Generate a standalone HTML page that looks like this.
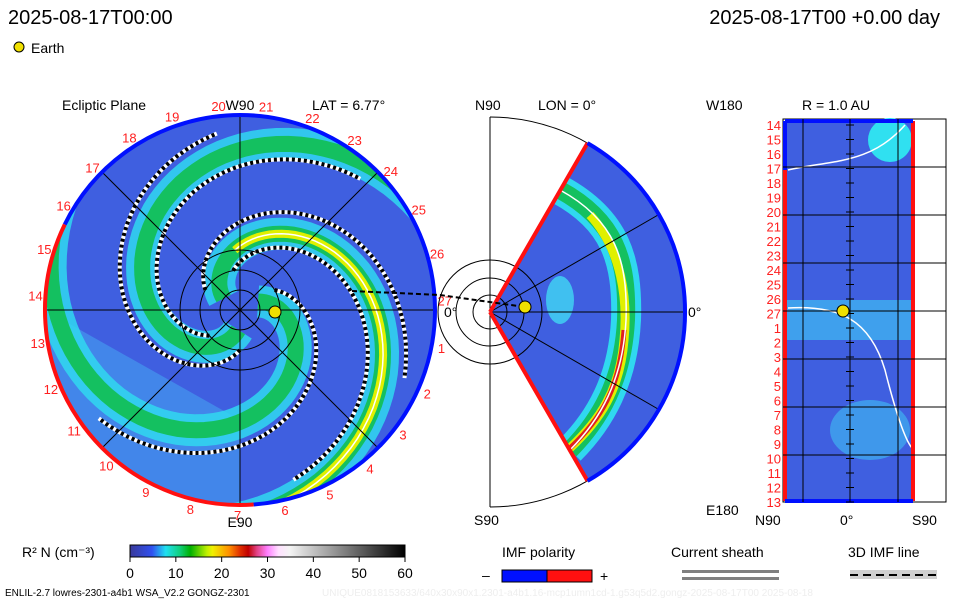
<!DOCTYPE html>
<html><head><meta charset="utf-8">
<style>
html,body{margin:0;padding:0;background:#fff;}
svg{display:block;font-family:"Liberation Sans",sans-serif;}
</style></head>
<body>
<svg id="c" width="960" height="600" viewBox="0 0 960 600" xmlns="http://www.w3.org/2000/svg">
<defs>
<linearGradient id="cb" x1="0" x2="1" y1="0" y2="0">
<stop offset="0" stop-color="#3a3a9a"/><stop offset="0.08" stop-color="#3050f0"/>
<stop offset="0.13" stop-color="#20e0f0"/><stop offset="0.18" stop-color="#10d080"/>
<stop offset="0.22" stop-color="#00b000"/><stop offset="0.28" stop-color="#c0f000"/>
<stop offset="0.3" stop-color="#f0f000"/><stop offset="0.36" stop-color="#ff9000"/>
<stop offset="0.4" stop-color="#e03000"/><stop offset="0.43" stop-color="#c00000"/>
<stop offset="0.46" stop-color="#e04080"/><stop offset="0.5" stop-color="#ff80ff"/>
<stop offset="0.54" stop-color="#ffe0ff"/><stop offset="0.58" stop-color="#f4f4f4"/>
<stop offset="1" stop-color="#000"/>
</linearGradient>
<clipPath id="disc"><circle cx="240" cy="310" r="195"/></clipPath>
<clipPath id="wedge"><path d="M490,312 L587.5,143.1 A195,195 0 0,1 587.5,480.9 Z"/></clipPath>
</defs>
<g id="root"></g>
</svg>
<script>
// ---- data ----
const armOffsets = [-170, -50, 70];       // start angle (deg) of each density arm
const armStrength = [3, 2, 2];            // 3=yellow core, 2=green
const sheathOffsets = [-200, -150, -80, 40, 90]; // current-sheath spiral start angles
const carringtonLabels = ["20","21","22","23","24","25","26","27","1","2","3","4","5","6","7","8","9","10","11","12","13","14","15","16","17","18","19"];
const latLabels = ["14","15","16","17","18","19","20","21","22","23","24","25","26","27","1","2","3","4","5","6","7","8","9","10","11","12","13"];
const cbTicks = [0,10,20,30,40,50,60];

const NS="http://www.w3.org/2000/svg";
const root=document.getElementById('root');
function mk(tag,attrs,parent,text){const e=document.createElementNS(NS,tag);for(const k in attrs)e.setAttribute(k,attrs[k]);if(text!==undefined)e.textContent=text;(parent||root).appendChild(e);return e;}

// ---- left disc ----
const cx=240,cy=310,R=195,K=1.25;
const disc=mk('g',{'clip-path':'url(#disc)'});


mk('circle',{cx:cx,cy:cy,r:R,fill:'#3f5fe0'},disc);
mk('path',{d:'M45,310 A195,195 0 0,0 240,505 L240,420 Z',fill:'#45a0f0',opacity:0.6},disc);
function spiral(th0,r0,r1){let d='';for(let r=r0;r<=r1;r+=3){const a=(th0+K*r)*Math.PI/180;d+=(d?'L':'M')+(cx+r*Math.cos(a)).toFixed(1)+','+(cy+r*Math.sin(a)).toFixed(1);}return d;}
armOffsets.forEach((o,i)=>{
  const d=spiral(o,20,230);
  const a=mk('path',{d:d,fill:'none',stroke:'#30d8f0','stroke-width':32,opacity:0.85},disc);
  
  
  mk('path',{d:d,fill:'none',stroke:'#14c060','stroke-width':16},disc);
  if(armStrength[i]>=3){mk('path',{d:spiral(o,60,230),fill:'none',stroke:'#e0f000','stroke-width':8},disc);
   mk('path',{d:spiral(o,60,230),fill:'none',stroke:'#fff','stroke-width':1.5},disc);}
});
sheathOffsets.forEach((o,i)=>{
  const d=spiral(o,40,180);
  mk('path',{d:d,fill:'none',stroke:'#fff','stroke-width':4},disc);
  const s=mk('path',{d:d,fill:'none',stroke:'#000','stroke-width':4,'stroke-dasharray':'3 3'},disc);
  
  
});
[20,40,60].forEach(r=>mk('circle',{cx:cx,cy:cy,r:r,fill:'none',stroke:'#000','stroke-width':1},disc));
[0,45,90,135].forEach(a=>{const t=a*Math.PI/180;mk('line',{x1:cx-R*Math.cos(t),y1:cy-R*Math.sin(t),x2:cx+R*Math.cos(t),y2:cy+R*Math.sin(t),stroke:'#000','stroke-width':1},disc);});
function arc(a0,a1,r){const p=a=>[cx+r*Math.cos(a*Math.PI/180),cy+r*Math.sin(a*Math.PI/180)];const [x0,y0]=p(a0),[x1,y1]=p(a1);return `M${x0},${y0} A${r},${r} 0 ${(a1-a0)>180?1:0},1 ${x1},${y1}`;}
const rb=mk('path',{d:arc(-154,86,195),fill:'none',stroke:'#0010ff','stroke-width':4});

const rr=mk('path',{d:arc(86,206,195),fill:'none',stroke:'#ff1010','stroke-width':4});

carringtonLabels.forEach((l,i)=>{const a=(-96+i*360/carringtonLabels.length)*Math.PI/180;
 const t=mk('text',{x:cx+205*Math.cos(a),y:cy+205*Math.sin(a)+5,fill:'#ff2020','font-size':13,'text-anchor':'middle'},root,l);
 });
mk('text',{x:62,y:110,'font-size':14},root,'Ecliptic Plane');
mk('text',{x:240,y:110,'font-size':14,'text-anchor':'middle',fill:'#000'},root,'W90');
mk('text',{x:312,y:110,'font-size':14},root,'LAT = 6.77°');
mk('text',{x:444,y:317,'font-size':14},root,'0°');
mk('text',{x:240,y:527,'font-size':14,'text-anchor':'middle'},root,'E90');

// ---- middle wedge ----
const mx=490,my=312;
const wg=mk('g',{'clip-path':'url(#wedge)'});

mk('rect',{x:490,y:100,width:220,height:420,fill:'#3f5fe0'},wg);
const band='M560,190 C615,220 628,260 626,320 C623,380 600,420 570,450';
mk('path',{d:band,fill:'none',stroke:'#30d8f0','stroke-width':30},wg);
mk('path',{d:band,fill:'none',stroke:'#14c060','stroke-width':18},wg);
mk('path',{d:'M590,215 C622,250 628,300 624,340 C620,390 600,420 570,448',fill:'none',stroke:'#e0f000','stroke-width':9},wg);
mk('path',{d:'M624,330 C620,390 600,420 570,448',fill:'none',stroke:'#e02020','stroke-width':5},wg);
mk('path',{d:band,fill:'none',stroke:'#fff','stroke-width':1.5},wg);
mk('ellipse',{cx:560,cy:300,rx:14,ry:24,fill:'#40c0f0'},wg);
[-60,-30,0,30,60].forEach(a=>{const t=a*Math.PI/180;mk('line',{x1:mx,y1:my,x2:mx+R*Math.cos(t),y2:my+R*Math.sin(t),stroke:'#000'},root);});
[17,34,52].forEach(r=>mk('circle',{cx:mx,cy:my,r:r,fill:'none',stroke:'#000'},root));
mk('path',{d:`M${mx},${my-R} A${R},${R} 0 0,1 ${mx},${my+R}`,fill:'none',stroke:'#000'},root);
mk('line',{x1:mx,y1:my-R,x2:mx,y2:my+R,stroke:'#000'},root);
mk('line',{x1:mx,y1:my,x2:587.5,y2:143.1,stroke:'#ff1010','stroke-width':4},root);
mk('line',{x1:mx,y1:my,x2:587.5,y2:480.9,stroke:'#ff1010','stroke-width':4},root);
mk('path',{d:`M587.5,143.1 A195,195 0 0,1 587.5,480.9`,fill:'none',stroke:'#0010ff','stroke-width':4},root);
mk('text',{x:475,y:110,'font-size':14},root,'N90');
mk('text',{x:538,y:110,'font-size':14},root,'LON = 0°');
mk('text',{x:688,y:317,'font-size':14},root,'0°');
mk('text',{x:474,y:525,'font-size':14},root,'S90');

mk('path',{d:'M352,291 L440,295 L525,307',fill:'none',stroke:'#000','stroke-width':2,'stroke-dasharray':'5 3'},root);
const e1=mk('circle',{cx:275,cy:312,r:6,fill:'#f0e000',stroke:'#000'});

const e2=mk('circle',{cx:525,cy:307,r:6,fill:'#f0e000',stroke:'#000'});


// ---- right panel ----
const rg=mk('g',{});

mk('rect',{x:783,y:119,width:163,height:383,fill:'#fff',stroke:'#000'},rg);
mk('rect',{x:785,y:121,width:129,height:380,fill:'#3f5fe0'},rg);
mk('rect',{x:785,y:300,width:129,height:40,fill:'#40b0f0',opacity:0.8},rg);
mk('ellipse',{cx:870,cy:430,rx:40,ry:30,fill:'#40b0f0',opacity:0.7},rg);
mk('ellipse',{cx:890,cy:140,rx:22,ry:22,fill:'#30e0f0'},rg);
mk('path',{d:'M788,170 C830,160 870,165 905,125',fill:'none',stroke:'#fff','stroke-width':1.5},rg);
mk('path',{d:'M788,308 C840,305 870,320 885,370 C895,410 905,440 912,448',fill:'none',stroke:'#fff','stroke-width':1.5},rg);
mk('line',{x1:785,y1:121,x2:785,y2:501,stroke:'#ff1010','stroke-width':4},rg);
mk('line',{x1:785,y1:121,x2:785,y2:170,stroke:'#0010ff','stroke-width':4},rg);
mk('line',{x1:913,y1:121,x2:913,y2:501,stroke:'#ff1010','stroke-width':4},rg);
mk('line',{x1:785,y1:121,x2:913,y2:121,stroke:'#0010ff','stroke-width':4},rg);
mk('line',{x1:785,y1:501,x2:913,y2:501,stroke:'#0010ff','stroke-width':4},rg);
[167,215,263,311,359,407,455].forEach(y=>mk('line',{x1:783,y1:y,x2:946,y2:y,stroke:'#000'},rg));
[803,850,898].forEach(x=>mk('line',{x1:x,y1:119,x2:x,y2:502,stroke:'#000'},rg));
latLabels.forEach((l,i)=>{const y=125+i*(377/(latLabels.length-1));
 const t=mk('text',{x:781,y:y+5,'font-size':13,fill:'#ff2020','text-anchor':'end'},root,l);
 
 mk('line',{x1:846,y1:y,x2:854,y2:y,stroke:'#000'},root);});
const e3=mk('circle',{cx:843,cy:311,r:6,fill:'#f0e000',stroke:'#000'});

mk('text',{x:706,y:110,'font-size':14},root,'W180');
mk('text',{x:802,y:110,'font-size':14},root,'R = 1.0 AU');
mk('text',{x:706,y:515,'font-size':14},root,'E180');
mk('text',{x:755,y:525,'font-size':14},root,'N90');
mk('text',{x:840,y:525,'font-size':14},root,'0°');
mk('text',{x:912,y:525,'font-size':14},root,'S90');

// ---- headers ----
mk('text',{x:8,y:24,'font-size':20},root,'2025-08-17T00:00');
mk('text',{x:940,y:24,'font-size':20,'text-anchor':'end'},root,'2025-08-17T00 +0.00 day');
mk('circle',{cx:19,cy:47,r:5,fill:'#f0e000',stroke:'#000'});
mk('text',{x:31,y:53,'font-size':14},root,'Earth');

// ---- colorbar ----
const cbX=130,cbW=275;
mk('text',{x:22,y:557,'font-size':14},root,'R² N (cm⁻³)');
const cbr=mk('rect',{x:cbX,y:545,width:cbW,height:12,fill:'url(#cb)',stroke:'#000'});

cbTicks.forEach(v=>{const x=cbX+cbW*v/60;mk('line',{x1:x,y1:557,x2:x,y2:562,stroke:'#000'},root);
 const t=mk('text',{x:x,y:578,'font-size':14,'text-anchor':'middle'},root,String(v));
 });
mk('text',{x:5,y:596,'font-size':10},root,'ENLIL-2.7 lowres-2301-a4b1 WSA_V2.2 GONGZ-2301');
mk('text',{x:322,y:596,'font-size':10,fill:'#eee'},root,'UNIQUE0818153633/640x30x90x1.2301-a4b1.16-mcp1umn1cd-1.g53q5d2.gongz-2025-08-17T00   2025-08-18');

// ---- legends ----
mk('text',{x:502,y:557,'font-size':14},root,'IMF polarity');
mk('text',{x:482,y:580,'font-size':14},root,'–');
mk('rect',{x:502,y:570,width:45,height:12,fill:'#0010ff',stroke:'#000'});
mk('rect',{x:547,y:570,width:45,height:12,fill:'#ff1010',stroke:'#000'});
mk('text',{x:600,y:581,'font-size':14},root,'+');
mk('text',{x:671,y:557,'font-size':14},root,'Current sheath');
mk('rect',{x:682,y:570,width:97,height:3,fill:'#808080'});
mk('rect',{x:682,y:577,width:97,height:3,fill:'#808080'});
mk('text',{x:848,y:557,'font-size':14},root,'3D IMF line');
mk('rect',{x:850,y:570,width:87,height:9,fill:'#d0d0d0'});
mk('line',{x1:850,y1:575,x2:937,y2:575,stroke:'#000','stroke-width':2,'stroke-dasharray':'8 5'});
</script>
</body></html>
